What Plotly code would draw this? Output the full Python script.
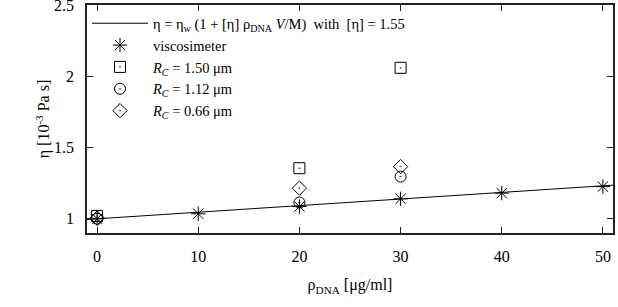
import plotly.graph_objects as go

# data
visc_x = [0, 10, 20, 30, 40, 50]
visc_y = [1.0, 1.035, 1.086, 1.14, 1.18, 1.226]

r150_x = [0, 20, 30]
r150_y = [1.02, 1.355, 2.06]

r112_x = [0, 20, 30]
r112_y = [1.0, 1.114, 1.296]

r066_x = [0, 20, 30]
r066_y = [1.005, 1.215, 1.366]

fit_x = [-1, 51]
fit_y = [0.995, 1.236]

x_ticks = [0, 10, 20, 30, 40, 50]
y_ticks = [1, 1.5, 2, 2.5]
y_tick_labels = ["1", "1.5", "2", "2.5"]

FONT = "'Liberation Serif', 'Times New Roman', Times, serif"
FS = 16

fig = go.Figure()
fig.add_trace(go.Scatter(
    x=fit_x, y=fit_y, mode="lines",
    line=dict(color="black", width=1),
    name="η = η<sub>w</sub> (1 + [η] ρ<sub>DNA</sub> <i>V</i>/M)\u00a0 with\u00a0 [η] = 1.55"))
fig.add_trace(go.Scatter(
    x=visc_x, y=visc_y, mode="markers",
    marker=dict(symbol="asterisk-open", size=12, color="black", line=dict(color="black", width=1)),
    name="viscosimeter"))
fig.add_trace(go.Scatter(
    x=r150_x, y=r150_y, mode="markers",
    marker=dict(symbol="square-open-dot", size=11, color="black", line=dict(color="black", width=1)),
    name="<i>R<sub>C</sub></i> = 1.50 μm"))
fig.add_trace(go.Scatter(
    x=r112_x, y=r112_y, mode="markers",
    marker=dict(symbol="circle-open-dot", size=11, color="black", line=dict(color="black", width=1)),
    name="<i>R<sub>C</sub></i> = 1.12 μm"))
fig.add_trace(go.Scatter(
    x=r066_x, y=r066_y, mode="markers",
    marker=dict(symbol="diamond-open-dot", size=11, color="black", line=dict(color="black", width=1)),
    name="<i>R<sub>C</sub></i> = 0.66 μm"))

axis_common = dict(
    showgrid=False, zeroline=False, showline=True, linecolor="#222", linewidth=1.5,
    mirror="allticks", ticks="inside", ticklen=6, tickwidth=1, tickcolor="#222",
    tickfont=dict(family=FONT, size=FS, color="black"), automargin=False,
    ticklabeloverflow="allow",
)

fig.update_layout(
    width=618, height=307,
    margin=dict(l=87, r=5, t=5, b=74, autoexpand=False),
    paper_bgcolor="white", plot_bgcolor="white",
    font=dict(family=FONT, size=FS, color="black"),
    showlegend=True,
    legend=dict(x=0.0, y=0.99, xanchor="left", yanchor="top",
                bgcolor="rgba(0,0,0,0)", font=dict(family=FONT, size=14.5),
                tracegroupgap=0, itemwidth=56),
    xaxis=dict(range=[-1, 51], tickvals=x_ticks, ticklabelstandoff=8,
               title=dict(text="ρ<sub>DNA</sub> [μg/ml]", font=dict(family=FONT, size=FS), standoff=15),
               **axis_common),
    yaxis=dict(range=[0.9, 2.501], tickvals=y_ticks, ticktext=y_tick_labels, ticklabelstandoff=8,
               title=dict(text="η [10<sup>-3</sup> Pa s]", font=dict(family=FONT, size=FS), standoff=0),
               **axis_common),
)

fig.write_html("out.html", config={"displayModeBar": False},
               post_script="document.body.style.margin='0';document.body.style.padding='0';")
